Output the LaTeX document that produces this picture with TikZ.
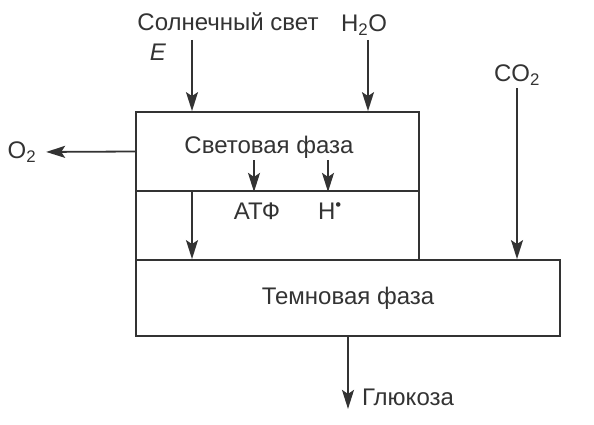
\documentclass[tikz,border=0pt]{standalone}
\usepackage{fontspec}
\setmainfont{Liberation Sans}
\usetikzlibrary{arrows.meta, positioning}
\definecolor{ink1}{rgb}{0.2,0.2,0.2}

\begin{document}
\begin{tikzpicture}[x=1pt,y=-1pt,->,>={Stealth[length=19pt,width=12pt,inset=4pt]},
                    line width=1.8pt,draw=ink1]
  \tikzstyle{phase}=[rectangle,draw=ink1,line width=1.8pt,inner sep=0pt]
  \tikzstyle{lbl}=[text=ink1,inner sep=0pt,font=\fontsize{24}{28}\selectfont]
  \useasboundingbox (0,0) rectangle (594,425);
  \node[phase, minimum width=283pt, minimum height=79pt] (light) at (277.5,151.5) {};
  \node[phase, minimum width=283pt, minimum height=69pt] (mid)   at (277.5,225.5) {};
  \node[phase, minimum width=424pt, minimum height=76pt] (dark)  at (348,298)     {};
  \node[lbl] (lightTxt) at (269,147) {Световая фаза};
  \node[lbl] (darkTxt)  at (348,298) {Темновая фаза};
  \node[lbl] (sun)      at (228,22)  {Солнечный свет};
  \node[lbl] (E)        at (158,52)  {\textit{E}};
  \node[lbl] (water)    at (364,25)  {H\textsubscript{2}O};
  \node[lbl] (co2)      at (517,75)  {CO\textsubscript{2}};
  \node[lbl] (o2)       at (22,152)  {O\textsubscript{2}};
  \node[lbl] (atp)      at (257,211) {АТФ};
  \node[lbl] (hdot)     at (330,211) {H\textsuperscript{•}};
  \node[lbl] (gluc)     at (408,397) {Глюкоза};
  \coordinate (sunTop)   at (192,40);
  \coordinate (waterTop) at (368,40);
  \coordinate (atpTop)   at (254,160);
  \coordinate (hTop)     at (328,160);
  \coordinate (feed)     at (192,191);
  \path (sunTop)   edge (sunTop |- light.north);
  \path (waterTop) edge (waterTop |- light.north);
  \path (light.west) edge[shorten >=9pt] (o2.east);
  \path (atpTop)   edge (atpTop |- light.south);
  \path (hTop)     edge (hTop |- light.south);
  \path (feed)     edge (feed |- dark.north);
  \path (co2)      edge[shorten <=2pt] (co2 |- dark.north);
  \path (dark.south) edge ++(0,72);
\end{tikzpicture}
\end{document}
